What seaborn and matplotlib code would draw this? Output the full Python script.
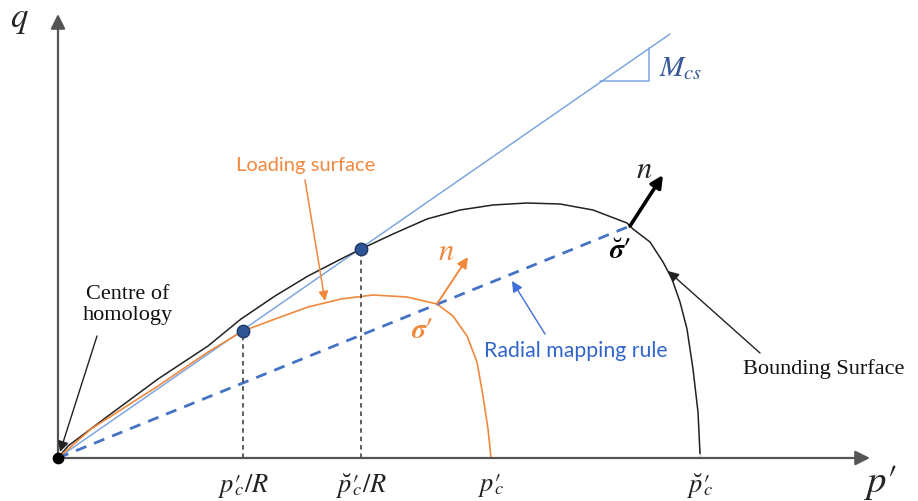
import numpy as np
import pandas as pd
import matplotlib
matplotlib.use("Agg")
import matplotlib.pyplot as plt
import seaborn as sns

# ---- data (p', q) in schematic units ----
bound_p = [0, 10, 50, 100, 150, 183, 217, 250, 283, 303, 335, 369, 402, 435, 469, 502,
           535, 569, 575, 592, 605, 614, 622, 629, 635, 640, 642, 642]
bound_q = [0, 12, 42, 79, 112, 139, 162, 182, 199, 209, 224, 239, 248, 253, 255, 254,
           248, 235, 229, 216, 196, 179, 156, 129, 89, 46, 9, 0]
load_p = [0, 33, 100, 150, 185, 217, 250, 283, 315, 349, 379, 395, 409, 419, 425, 430, 433]
load_q = [0, 29, 72, 106, 127, 139, 151, 159, 163, 161, 154, 142, 122, 96, 62, 29, 0]
csl_p = [0, 612]
csl_q = [0, 424]
radial_p = [0, 572]
radial_q = [0, 232]
dot_p = [185, 303]
dot_q = [127, 209]
tick_pos = [185, 303, 433, 642]
tick_labels = [r"$p\prime_{\!\!\!c}/R$", r"$\breve{p}\prime_{\!\!\!c}/R$",
               r"$p\prime_{\!\!\!c}$", r"$\breve{p}\prime_{\!\!\!c}$"]

sns.set_theme(style="white")
plt.rcParams["mathtext.fontset"] = "stix"
plt.rcParams["font.family"] = ["DejaVu Sans"]

fig = plt.figure(figsize=(9.18, 5.02), dpi=100)
ax = fig.add_axes([0, 0, 1, 1])
ax.set_xlim(-58, 860)
ax.set_ylim(-43, 459)
ax.axis("off")

ORANGE = "#f0883e"
CSL_BLUE = "#7ea6e0"
DASH_BLUE = "#4472c4"
NAVY = "#2f5597"

# axes arrows
ax.annotate("", xy=(812, 0), xytext=(0, 0),
            arrowprops=dict(arrowstyle="-|>", color="#555555", lw=1.6, mutation_scale=22,
                            shrinkA=0, shrinkB=0, facecolor="black"))
ax.annotate("", xy=(0, 444), xytext=(0, 0),
            arrowprops=dict(arrowstyle="-|>", color="#555555", lw=1.6, mutation_scale=22,
                            shrinkA=0, shrinkB=0, facecolor="black"))

# curves
sns.lineplot(x=csl_p, y=csl_q, ax=ax, color=CSL_BLUE, lw=1.1, sort=False)
sns.lineplot(x=bound_p, y=bound_q, ax=ax, color="#222222", lw=1.1, sort=False)
sns.lineplot(x=load_p, y=load_q, ax=ax, color=ORANGE, lw=1.2, sort=False)
sns.lineplot(x=radial_p, y=radial_q, ax=ax, color=DASH_BLUE, lw=2.0, sort=False,
             linestyle=(0, (4, 3)))

# dashed verticals
ax.vlines(dot_p, 0, dot_q, colors="#333333", linestyles=(0, (3, 2.5)), lw=1.1)

# dots
sns.scatterplot(x=dot_p, y=dot_q, ax=ax, s=80, color=NAVY, edgecolor="#1f3864", linewidth=1, zorder=5)
ax.scatter([0], [0], s=55, color="black", zorder=6)

# M_cs triangle
tri_x = [542, 591, 591]
tri_y = [377, 377, 410]
ax.plot(tri_x, tri_y, color=CSL_BLUE, lw=1.1)
ax.text(601, 391, r"$M_{cs}$", color="#3a5a9a", fontsize=21, ha="left", va="center")

# tick labels
for xp, lab in zip(tick_pos, tick_labels):
    ax.text(xp, -27, lab, fontsize=19, ha="center", va="center", color="#222222")

ax.text(-39, 440, r"$q$", fontsize=25, ha="center", va="center")
ax.text(822, -24, r"$p\prime$", fontsize=28, ha="center", va="center")

# annotations
serif = "Liberation Serif"
sans = "Lato"
ax.text(248, 294, "Loading surface", color=ORANGE, fontsize=14.5, family=sans, ha="center", va="center")
ax.annotate("", xy=(267, 157), xytext=(247, 278),
            arrowprops=dict(arrowstyle="-|>", color=ORANGE, lw=1.1, mutation_scale=14, shrinkA=0, shrinkB=0))

ax.text(70, 154, "Centre of\nhomology", fontsize=16, family=serif, ha="center", va="center",
        linespacing=1.1, color="#111111")
ax.annotate("", xy=(2, 6), xytext=(39, 122),
            arrowprops=dict(arrowstyle="-|>", color="#222222", lw=1.0, mutation_scale=16, shrinkA=0, shrinkB=0))

ax.text(766, 90, "Bounding Surface", fontsize=16, family=serif, ha="center", va="center", color="#111111")
ax.annotate("", xy=(610, 187), xytext=(702, 105),
            arrowprops=dict(arrowstyle="-|>", color="#222222", lw=1.0, mutation_scale=16, shrinkA=0, shrinkB=0))

ax.text(518, 108, "Radial mapping rule", color="#3366cc", fontsize=15.3, family=sans, ha="center", va="center")
ax.annotate("", xy=(454, 177), xytext=(487, 124),
            arrowprops=dict(arrowstyle="-|>", color="#3d6fd6", lw=1.0, mutation_scale=16, shrinkA=0, shrinkB=0))

# normal vectors
ax.annotate("", xy=(605, 283), xytext=(572, 232),
            arrowprops=dict(arrowstyle="-|>", color="black", lw=2.6, mutation_scale=18, shrinkA=0, shrinkB=0))
ax.text(586, 289, r"$n$", fontsize=22, ha="center", va="center")
ax.annotate("", xy=(410, 201), xytext=(379, 154),
            arrowprops=dict(arrowstyle="-|>", color=ORANGE, lw=1.4, mutation_scale=16, shrinkA=0, shrinkB=0))
ax.text(388, 207, r"$n$", fontsize=22, ha="center", va="center", color=ORANGE)

ax.text(364, 129, r"$\boldsymbol{\sigma\prime}$", fontsize=20, ha="center", va="center", color=ORANGE)
ax.text(562, 208, r"$\breve{\boldsymbol{\sigma}}\boldsymbol{\prime}$", fontsize=20, ha="center", va="center", color="black")

fig.savefig("out.png", dpi=100)
